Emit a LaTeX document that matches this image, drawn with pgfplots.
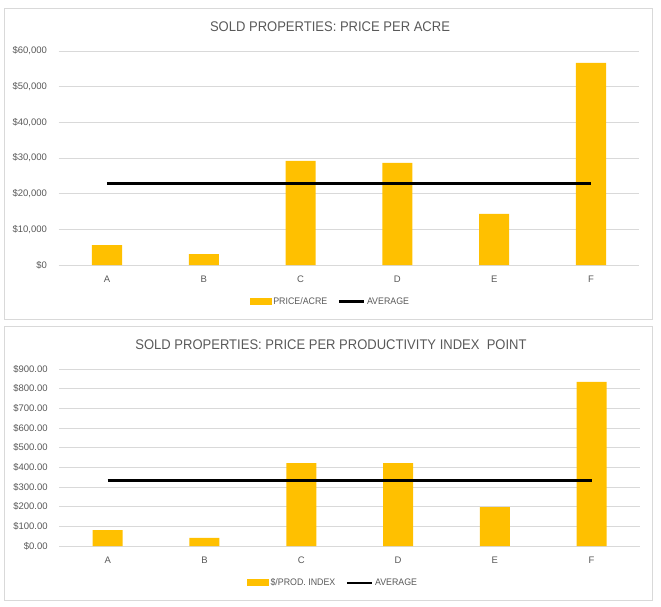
\documentclass[border=0pt]{standalone}
\usepackage{fontspec}
\setmainfont{Liberation Sans}
\newfontfamily\narrowfont[FakeStretch=0.93]{Liberation Sans}
\usepackage{pgfplots}
\pgfplotsset{compat=1.18}
\definecolor{barcol}{HTML}{FFC000}
\definecolor{gridcol}{HTML}{D9D9D9}
\definecolor{txtcol}{HTML}{595959}

\pgfplotsset{
  soldstyle/.style={
    scale only axis, anchor=south west,
    xmin=-0.5, xmax=5.5, ymin=0, scaled y ticks=false,
    axis line style={draw=none}, major tick length=0pt,
    ymajorgrids, grid style={gridcol, line width=0.75pt},
    xtick={0,...,5}, xticklabels={A,B,C,D,E,F},
    ticklabel style={font=\fontsize{9.5}{11}\selectfont, text=txtcol, inner sep=0pt},
    yticklabel style={anchor=east, xshift=-11.5pt},
    xticklabel style={anchor=north, yshift=-10.5pt},
    legend columns=2,
    legend style={draw=none, fill=none, anchor=center,
      font=\narrowfont\fontsize{9.5}{11}\selectfont, text=txtcol,
      nodes={inner sep=1.5pt},
      /tikz/every even column/.append style={column sep=9pt}},
  },
  barstyle/.style={ybar, bar width=30pt, bar shift=0pt, fill=barcol, draw=none,
    legend image code/.code={\fill[barcol] (0pt,-3.5pt) rectangle (22pt,3.5pt);}},
  avgstyle/.style={black, line width=2.5pt, mark=none,
    legend image code/.code={\draw[black, line width=2.2pt] (0pt,0pt) -- (25.5pt,0pt);}},
}

\begin{document}
\begin{tikzpicture}
\path[use as bounding box] (0pt,0pt) rectangle (661pt,606pt);

% panel frames
\draw[gridcol, line width=0.75pt] (4.7pt,597.7pt) rectangle (652pt,287pt);
\draw[gridcol, line width=0.75pt] (4.7pt,280pt) rectangle (652.7pt,6pt);

% titles
\node[text=txtcol, font=\narrowfont\fontsize{14}{16}\selectfont] at (330pt,579pt)
  {SOLD PROPERTIES: PRICE PER ACRE};
\node[text=txtcol, font=\narrowfont\fontsize{14}{16}\selectfont] at (331pt,261pt)
  {SOLD PROPERTIES: PRICE PER PRODUCTIVITY INDEX\ \ POINT};

% price per acre
\begin{axis}[soldstyle,
  at={(58.6pt,341pt)}, width=580.8pt, height=214pt,
  ymax=60000, ytick={0,10000,20000,30000,40000,50000,60000},
  yticklabels={{\$0},{\$10,000},{\$20,000},{\$30,000},{\$40,000},{\$50,000},{\$60,000}},
  legend style={at={(0.4676,-0.1706)}},
]
\addplot[barstyle] coordinates {(0,5600) (1,3080) (2,29160) (3,28600) (4,14300) (5,56640)};
\addlegendentry{PRICE/ACRE}
\addplot[avgstyle] coordinates {(0,22897) (5,22897)};
\addlegendentry{AVERAGE}
\end{axis}

% price per productivity index point
\begin{axis}[soldstyle,
  at={(59.3pt,60pt)}, width=580.7pt, height=177pt,
  ymax=900, ytick={0,100,200,300,400,500,600,700,800,900},
  yticklabels={{\$0.00},{\$100.00},{\$200.00},{\$300.00},{\$400.00},{\$500.00},{\$600.00},{\$700.00},{\$800.00},{\$900.00}},
  legend style={at={(0.471,-0.207)}},
]
\addplot[barstyle] coordinates {(0,81) (1,41) (2,422) (3,422) (4,198) (5,834)};
\addlegendentry{\$/PROD. INDEX}
\addplot[avgstyle] coordinates {(0,333) (5,333)};
\addlegendentry{AVERAGE}
\end{axis}
\end{tikzpicture}
\end{document}
